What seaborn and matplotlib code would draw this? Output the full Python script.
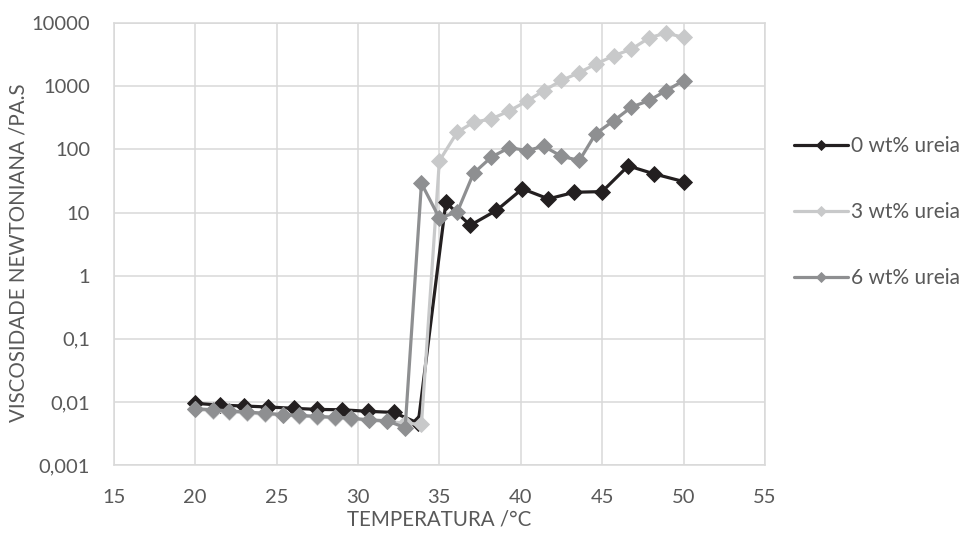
import matplotlib
matplotlib.use("Agg")
import matplotlib.pyplot as plt
import seaborn as sns
import pandas as pd
from matplotlib.ticker import FixedLocator, NullLocator

# ---- data ----
temp_0 = [20.0, 21.5, 23.0, 24.5, 26.1, 27.5, 29.0, 30.6, 32.2, 33.7,
          35.4, 36.9, 38.5, 40.1, 41.7, 43.3, 45.0, 46.6, 48.2, 50.0]
visc_0 = [0.0095, 0.0089, 0.0086, 0.0083, 0.0079, 0.0076, 0.0075, 0.0071, 0.0068, 0.0046,
          14.5, 6.3, 10.8, 23.8, 16.5, 21.0, 21.5, 55.0, 41.0, 31.0]

temp_3 = [20.0, 21.1, 22.1, 23.2, 24.3, 25.4, 26.4, 27.5, 28.6, 29.6,
          30.7, 31.8, 32.9, 33.9, 35.0, 36.1, 37.1, 38.2, 39.3, 40.4,
          41.4, 42.5, 43.6, 44.6, 45.7, 46.8, 47.9, 48.9, 50.0]
visc_3 = [0.0076, 0.0073, 0.0070, 0.0067, 0.0064, 0.0062, 0.0060, 0.0058, 0.0056, 0.0054,
          0.0051, 0.0049, 0.0046, 0.0044, 66.0, 188.0, 270.0, 305.0, 410.0, 590.0,
          850.0, 1240.0, 1660.0, 2250.0, 3050.0, 3900.0, 5900.0, 7000.0, 6000.0]

temp_6 = [20.0, 21.1, 22.1, 23.2, 24.3, 25.4, 26.4, 27.5, 28.6, 29.6,
          30.7, 31.8, 32.9, 33.9, 35.0, 36.1, 37.1, 38.2, 39.3, 40.4,
          41.4, 42.5, 43.6, 44.6, 45.7, 46.8, 47.9, 48.9, 50.0]
visc_6 = [0.0078, 0.0075, 0.0072, 0.0069, 0.0066, 0.0063, 0.0061, 0.0059, 0.0057, 0.0055,
          0.0052, 0.0050, 0.0039, 29.0, 8.2, 10.2, 42.0, 76.0, 107.0, 96.0,
          113.0, 78.0, 67.0, 178.0, 285.0, 470.0, 600.0, 850.0, 1230.0]

series_labels = ["0 wt% ureia", "3 wt% ureia", "6 wt% ureia"]
series_colors = ["#231f20", "#c8c9ca", "#8e8f91"]

x_ticks = [15, 20, 25, 30, 35, 40, 45, 50, 55]
y_ticks = [0.001, 0.01, 0.1, 1, 10, 100, 1000, 10000]
y_tick_labels = ["0,001", "0,01", "0,1", "1", "10", "100", "1000", "10000"]
x_title = "TEMPERATURA /°C"
y_title = "VISCOSIDADE NEWTONIANA /PA.S"

# ---- plot ----
sns.set_theme(style="white")
plt.rcParams["font.family"] = ["Lato", "DejaVu Sans"]
text_color = "#595959"
grid_color = "#d9d9d9"

fig = plt.figure(figsize=(9.67, 5.33), dpi=100)
ax = fig.add_axes([0.1176, 0.1276, 0.6735, 0.8287])

frames = []
for t, v, lab in zip([temp_0, temp_3, temp_6], [visc_0, visc_3, visc_6], series_labels):
    frames.append(pd.DataFrame({"T": t, "V": v, "serie": lab}))
df = pd.concat(frames, ignore_index=True)

for lab, col in zip(series_labels, series_colors):
    sub = df[df["serie"] == lab]
    sns.lineplot(data=sub, x="T", y="V", color=col, marker="D", markersize=8.4,
                 markeredgewidth=0.6, markeredgecolor=col, linewidth=2.3,
                 label=lab, ax=ax, sort=False, estimator=None)

ax.set_yscale("log")
ax.set_xlim(15, 55)
ax.set_ylim(0.001, 10000)
ax.xaxis.set_major_locator(FixedLocator(x_ticks))
ax.yaxis.set_major_locator(FixedLocator(y_ticks))
ax.yaxis.set_minor_locator(NullLocator())
ax.set_xticklabels([str(x) for x in x_ticks])
ax.set_yticklabels(y_tick_labels)
ax.tick_params(axis="both", length=0, labelsize=14.5, colors=text_color)
ax.tick_params(axis="y", pad=17)
ax.tick_params(axis="x", pad=17)

ax.grid(True, color=grid_color, linewidth=1.1)
ax.set_axisbelow(True)
for s in ax.spines.values():
    s.set_color(grid_color)
    s.set_linewidth(1.1)

ax.set_xlabel(x_title, fontsize=14.8, color=text_color)
ax.set_ylabel(y_title, fontsize=14.8, color=text_color)
ax.xaxis.set_label_coords(0.5, -0.101)
ax.yaxis.set_label_coords(-0.131, 0.48)

leg = ax.legend(loc="center left", bbox_to_anchor=(0.821, 0.602),
                bbox_transform=fig.transFigure, frameon=False, fontsize=15,
                handlelength=2.6, handletextpad=0.15, labelspacing=2.2,
                borderpad=0, borderaxespad=0)
for h in leg.legend_handles:
    h.set_markersize(5.5)
for txt in leg.get_texts():
    txt.set_color(text_color)

fig.savefig("out.png", dpi=100)
